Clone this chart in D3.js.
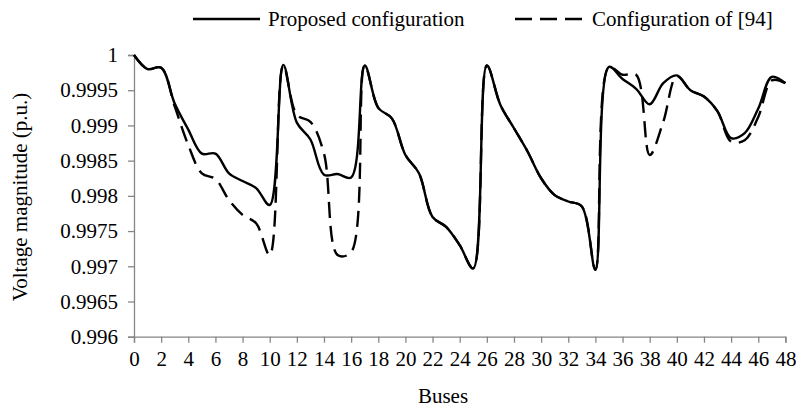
<!DOCTYPE html>
<html>
<head>
<meta charset="utf-8">
<script src="https://cdn.jsdelivr.net/npm/d3@7/dist/d3.min.js"></script>
<style>
  html, body { margin: 0; padding: 0; background: #fff; }
  svg { display: block; }
  svg text { font-family: 'Liberation Serif', serif !important; fill: #000; }
</style>
</head>
<body>
<svg id="chart" width="796" height="409"></svg>
<script>
const buses = d3.range(0, 49);
const proposed = [
  1.00000, 0.99980, 0.99982, 0.99931, 0.99894, 0.99860, 0.99860, 0.99832, 0.99821, 0.99811,
  0.99787, 0.99986, 0.99904, 0.99880, 0.99830, 0.99831, 0.99826, 0.99985, 0.99925, 0.99910,
  0.99858, 0.99832, 0.99770, 0.99756, 0.99730, 0.99697, 0.99985, 0.99929, 0.99896, 0.99863,
  0.99825, 0.99801, 0.99792, 0.99785, 0.99695, 0.99983, 0.99966, 0.99952, 0.99930, 0.99960,
  0.99971, 0.99950, 0.99941, 0.99920, 0.99882, 0.99889, 0.99924, 0.99969, 0.99960
];
const reference94 = [
  1.00000, 0.99980, 0.99982, 0.99927, 0.99872, 0.99832, 0.99824, 0.99794, 0.99773, 0.99761,
  0.99716, 0.99985, 0.99915, 0.99905, 0.99860, 0.99716, 0.99720, 0.99985, 0.99925, 0.99910,
  0.99858, 0.99832, 0.99770, 0.99756, 0.99730, 0.99697, 0.99985, 0.99929, 0.99896, 0.99863,
  0.99825, 0.99801, 0.99792, 0.99785, 0.99695, 0.99983, 0.99972, 0.99972, 0.99858, 0.99905,
  0.99970, 0.99950, 0.99941, 0.99920, 0.99877, 0.99879, 0.99912, 0.99964, 0.99960
];
const yTicks = [0.996, 0.9965, 0.997, 0.9975, 0.998, 0.9985, 0.999, 0.9995, 1];
const xTicks = d3.range(0, 49, 2);
const seriesNames = ["Proposed configuration", "Configuration of [94]"];

(function draw() {
const svg = d3.select("#chart");
const mLeft = 134, mRight = 785.4, mTop = 55, mBottom = 336.7;

const x = d3.scaleLinear().domain([0, 48]).range([mLeft, mRight]);
const y = d3.scaleLinear().domain([0.996, 1]).range([mBottom, mTop]);
const axisColor = "#868686";
const fontSize = 21;

// Y axis
const yAxis = svg.append("g")
  .attr("transform", `translate(${mLeft},0)`)
  .call(d3.axisLeft(y).tickValues(yTicks).tickSize(6).tickPadding(10)
    .tickFormat(d => d === 1 ? "1" : String(+d.toFixed(4))));
yAxis.attr("font-family", null);
yAxis.select(".domain").attr("stroke", axisColor).attr("stroke-width", 1.3);
yAxis.selectAll(".tick line").attr("stroke", axisColor).attr("stroke-width", 1.3);
yAxis.selectAll(".tick text").attr("font-size", fontSize).attr("fill", "#000");

// X axis
const xAxis = svg.append("g")
  .attr("transform", `translate(0,${mBottom})`)
  .call(d3.axisBottom(x).tickValues(xTicks).tickSize(6).tickPadding(8).tickFormat(d3.format("d")));
xAxis.attr("font-family", null);
xAxis.select(".domain").attr("stroke", axisColor).attr("stroke-width", 1.3);
xAxis.selectAll(".tick line").attr("stroke", axisColor).attr("stroke-width", 1.3);
xAxis.selectAll(".tick text").attr("font-size", fontSize).attr("fill", "#000");

// Lines
const curve = d3.curveCatmullRom.alpha(0.5);
const lineGen = vals => d3.line().curve(curve).x((d, i) => x(buses[i])).y(d => y(d))(vals);

svg.append("path")
  .attr("d", lineGen(reference94))
  .attr("fill", "none").attr("stroke", "#000").attr("stroke-width", 2.4)
  .attr("stroke-dasharray", "16,8");

svg.append("path")
  .attr("d", lineGen(proposed))
  .attr("fill", "none").attr("stroke", "#000").attr("stroke-width", 2.4);

// Axis titles
svg.append("text")
  .attr("x", 443).attr("y", 403)
  .attr("text-anchor", "middle").attr("font-size", fontSize)
  .text("Buses");

svg.append("text")
  .attr("transform", `translate(27,197) rotate(-90)`)
  .attr("text-anchor", "middle").attr("font-size", fontSize)
  .text("Voltage magnitude (p.u.)");

// Legend
const lg = svg.append("g");
lg.append("line").attr("x1", 193).attr("x2", 260).attr("y1", 19).attr("y2", 19)
  .attr("stroke", "#000").attr("stroke-width", 2.4);
lg.append("text").attr("x", 268).attr("y", 26).attr("font-size", fontSize).text(seriesNames[0]);
lg.append("line").attr("x1", 515).attr("x2", 583).attr("y1", 19).attr("y2", 19)
  .attr("stroke", "#000").attr("stroke-width", 2.4).attr("stroke-dasharray", "17,8");
lg.append("text").attr("x", 592).attr("y", 26).attr("font-size", fontSize).text(seriesNames[1]);
})();
</script>
</body>
</html>
